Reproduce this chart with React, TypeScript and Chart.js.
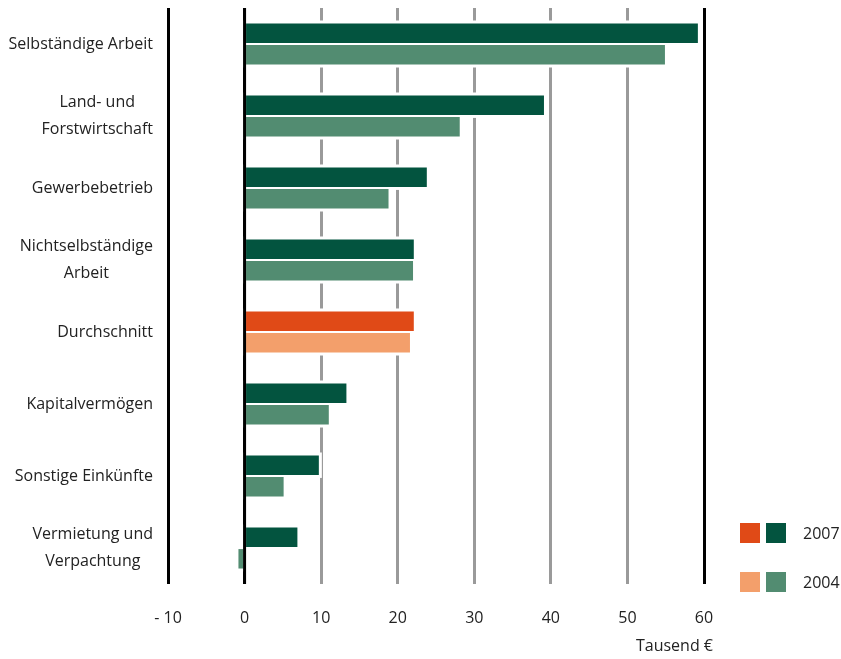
import { useEffect, useRef } from 'react';
import { Chart, registerables } from 'chart.js';

Chart.register(...registerables);

// ---- data ----
const categories: string[][] = [
  ['Selbständige Arbeit'],
  ['Land- und', 'Forstwirtschaft'],
  ['Gewerbebetrieb'],
  ['Nichtselbständige', 'Arbeit'],
  ['Durchschnitt'],
  ['Kapitalvermögen'],
  ['Sonstige Einkünfte'],
  ['Vermietung und', 'Verpachtung'],
];
const values2007 = [59.2, 39.1, 23.8, 22.1, 22.1, 13.3, 9.7, 6.9];
const values2004 = [54.9, 28.1, 18.8, 22.0, 21.6, 11.0, 5.1, -0.8];
const xTickValues = [-10, 0, 10, 20, 30, 40, 50, 60];
const seriesNames = ['2007', '2004'];
const highlightCategory = 'Durchschnitt';
const axisTitle = 'Tausend €';

// ---- styles ----
const DARK_GREEN = '#03543F';
const MID_GREEN = '#528C71';
const ORANGE = '#E04A17';
const LIGHT_ORANGE = '#F39F6B';
const TEXT = '#222222';
const FONT = '"Open Sans", sans-serif';

const isHighlight = (c: string[]) => c.join(' ') === highlightCategory;

const decorPlugin = {
  id: 'decor',
  beforeDatasetsDraw(chart: any) {
    const ctx = chart.ctx;
    ctx.save();
    ctx.fillStyle = '#ffffff';
    chart.data.datasets.forEach((_: any, i: number) => {
      const meta = chart.getDatasetMeta(i);
      meta.data.forEach((el: any) => {
        const { x, y, base, height } = el.getProps(['x', 'y', 'base', 'height'], true);
        const l = Math.min(x, base) - 3;
        const r = Math.max(x, base) + 3;
        ctx.fillRect(l, y - height / 2 - 3, r - l, height + 6);
      });
    });
    ctx.restore();
  },
  afterDatasetsDraw(chart: any) {
    const ctx = chart.ctx;
    const xs = chart.scales.x;
    const { top, bottom } = chart.chartArea;
    const x0 = xs.getPixelForValue(0);
    ctx.save();
    ctx.strokeStyle = '#000';
    ctx.lineWidth = 3;
    ctx.beginPath();
    ctx.moveTo(x0, top);
    ctx.lineTo(x0, bottom);
    ctx.stroke();
    ctx.restore();
  },
  afterDraw(chart: any) {
    const ctx = chart.ctx;
    const ys = chart.scales.y;
    const xs = chart.scales.x;
    ctx.save();
    ctx.font = `16px ${FONT}`;
    ctx.fillStyle = TEXT;
    ctx.textBaseline = 'middle';
    ctx.textAlign = 'center';
    // category labels: block right aligned, lines centered in the block
    const rightEdge = chart.chartArea.left - 15;
    const lineH = 27;
    categories.forEach((lines, i) => {
      const cy = ys.getPixelForValue(i);
      const w = Math.max(...lines.map((t) => ctx.measureText(t).width));
      const cx = rightEdge - w / 2;
      lines.forEach((t, j) => {
        ctx.fillText(t, cx, cy + (j - (lines.length - 1) / 2) * lineH);
      });
    });
    // axis title
    ctx.textAlign = 'right';
    ctx.fillText(axisTitle, xs.getPixelForValue(60) + 9, chart.chartArea.bottom + 62);
    // legend
    const lx = chart.chartArea.right + 36;
    const legendRows = [
      { name: seriesNames[0], colors: [ORANGE, DARK_GREEN], cy: 533 },
      { name: seriesNames[1], colors: [LIGHT_ORANGE, MID_GREEN], cy: 582 },
    ];
    ctx.textAlign = 'left';
    legendRows.forEach((row) => {
      row.colors.forEach((c, k) => {
        ctx.fillStyle = c;
        ctx.fillRect(lx + k * 26, row.cy - 10, 20, 20);
      });
      ctx.fillStyle = TEXT;
      ctx.fillText(row.name, lx + 63, row.cy + 1);
    });
    ctx.restore();
  },
};

export default function App() {
  const ref = useRef<HTMLCanvasElement | null>(null);
  useEffect(() => {
    if (!ref.current) return;
    const chart = new Chart(ref.current, {
      type: 'bar',
      data: {
        labels: categories.map((c) => c.join(' ')),
        datasets: [
          {
            label: seriesNames[0],
            data: values2007,
            backgroundColor: categories.map((c) => (isHighlight(c) ? ORANGE : DARK_GREEN)),
            categoryPercentage: 0.6,
            barPercentage: 0.9,
          },
          {
            label: seriesNames[1],
            data: values2004,
            backgroundColor: categories.map((c) => (isHighlight(c) ? LIGHT_ORANGE : MID_GREEN)),
            categoryPercentage: 0.6,
            barPercentage: 0.9,
          },
        ],
      },
      options: {
        indexAxis: 'y',
        animation: false,
        responsive: false,
        devicePixelRatio: 1,
        layout: { padding: { top: 8, right: 137, left: 0, bottom: 0 } },
        plugins: { legend: { display: false }, tooltip: { enabled: false } },
        scales: {
          x: {
            type: 'linear',
            min: -10,
            max: 60,
            afterBuildTicks: (s: any) => {
              s.ticks = xTickValues.map((v) => ({ value: v }));
            },
            afterFit: (s: any) => {
              s.height = 75;
            },
            ticks: {
              font: { family: FONT, size: 16 },
              color: TEXT,
              padding: 25,
              maxRotation: 0,
              callback: (v: any) => (Number(v) < 0 ? '- ' + Math.abs(Number(v)) : String(v)),
            },
            grid: {
              drawTicks: false,
              lineWidth: 3,
              color: (c: any) => {
                const v = c.tick ? c.tick.value : null;
                return v === -10 || v === 0 || v === 60 ? '#000000' : '#9a9a9a';
              },
            },
            border: { display: false },
          },
          y: {
            type: 'category',
            ticks: { display: false },
            grid: { display: false },
            border: { display: false },
            afterFit: (s: any) => {
              s.width = 168;
            },
          },
        },
      },
      plugins: [decorPlugin],
    });
    return () => chart.destroy();
  }, []);
  return (
    <div style={{ position: 'fixed', left: 0, top: 0, width: 841, height: 659 }}>
      <canvas ref={ref} width={841} height={659} />
    </div>
  );
}
